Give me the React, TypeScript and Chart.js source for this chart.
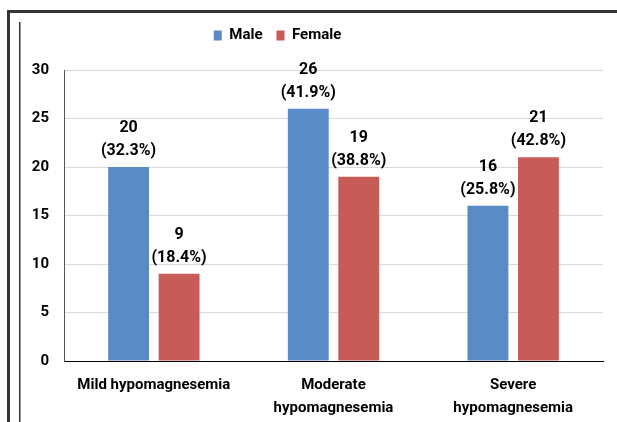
import { useEffect, useRef } from "react";
import { Chart, registerables } from "chart.js";

Chart.register(...registerables);

const categories = [["Mild hypomagnesemia"], ["Moderate", "hypomagnesemia"], ["Severe", "hypomagnesemia"]];
const seriesNames = ["Male", "Female"];
const maleValues = [20, 26, 16];
const femaleValues = [9, 19, 21];
const malePercents = ["32.3%", "41.9%", "25.8%"];
const femalePercents = ["18.4%", "38.8%", "42.8%"];
const yMin = 0;
const yMax = 30;
const yStep = 5;

const FONT = "Roboto";

const framePlugin = {
  id: "frame",
  beforeLayout(chart: any) {
    const lg = chart.legend;
    if (lg && !lg.__patched) {
      const orig = lg.fit;
      lg.fit = function () {
        orig.call(this);
        this.height = 56;
      };
      lg.__patched = true;
    }
  },
  afterLayout(chart: any) {
    const lg = chart.legend;
    if (lg) {
      lg.left -= 24;
      lg.right -= 24;
    }
  },
  beforeDraw(chart: any) {
    const ctx = chart.ctx;
    ctx.save();
    ctx.fillStyle = "#ffffff";
    ctx.fillRect(0, 0, chart.width, chart.height);
    ctx.fillStyle = "#333333";
    ctx.fillRect(7, 10, chart.width - 7, 3);
    ctx.fillRect(7, 10, 3, chart.height - 10);
    ctx.fillRect(19, 22, 1.5, chart.height - 22);
    ctx.restore();
  },
};

const labelPlugin = {
  id: "barLabels",
  afterDatasetsDraw(chart: any) {
    const ctx = chart.ctx;
    const pcts = [malePercents, femalePercents];
    ctx.save();
    ctx.font = `bold 16px ${FONT}`;
    ctx.fillStyle = "#000000";
    ctx.textAlign = "center";
    ctx.textBaseline = "middle";
    chart.data.datasets.forEach((ds: any, di: number) => {
      const meta = chart.getDatasetMeta(di);
      meta.data.forEach((el: any, i: number) => {
        ctx.fillText(String(ds.data[i]), el.x, el.y - 39);
        ctx.fillText(`(${pcts[di][i]})`, el.x, el.y - 16);
      });
    });
    ctx.restore();
  },
};

export default function App() {
  const ref = useRef<HTMLCanvasElement>(null);
  useEffect(() => {
    if (!ref.current) return;
    const chart = new Chart(ref.current, {
      type: "bar",
      data: {
        labels: categories,
        datasets: [
          { label: seriesNames[0], data: maleValues, backgroundColor: "#5B8BC6" },
          { label: seriesNames[1], data: femaleValues, backgroundColor: "#C65B57" },
        ],
      },
      options: {
        animation: false,
        responsive: false,
        maintainAspectRatio: false,
        devicePixelRatio: 1,
        layout: { padding: { top: 14, right: 14, left: 0, bottom: 0 } },
        datasets: { bar: { categoryPercentage: 0.562, barPercentage: 0.81 } },
        plugins: {
          legend: {
            position: "top",
            labels: {
              boxWidth: 8,
              boxHeight: 10,
              padding: 14,
              color: "#000000",
              font: { family: FONT, size: 15, weight: "bold" },
            },
          },
          tooltip: { enabled: false },
        },
        scales: {
          x: {
            grid: { display: false },
            border: { color: "#000000", width: 1 },
            ticks: {
              color: "#000000",
              padding: 5,
              maxRotation: 0,
              autoSkip: false,
              font: { family: FONT, size: 15, weight: "bold", lineHeight: 1.5 },
            },
            afterFit(scale: any) {
              scale.height = 61;
            },
          },
          y: {
            min: yMin,
            max: yMax,
            ticks: {
              stepSize: yStep,
              color: "#000000",
              padding: 15,
              font: { family: FONT, size: 15, weight: "bold" },
            },
            grid: { color: "#D9D9D9", drawTicks: false },
            border: { color: "#555555", width: 1 },
            afterFit(scale: any) {
              scale.width = 64;
            },
          },
        },
      },
      plugins: [framePlugin, labelPlugin],
    });
    return () => chart.destroy();
  }, []);
  return (
    <div style={{ position: "absolute", left: 0, top: 0, width: 617, height: 422 }}>
      <canvas ref={ref} width={617} height={422} />
    </div>
  );
}
